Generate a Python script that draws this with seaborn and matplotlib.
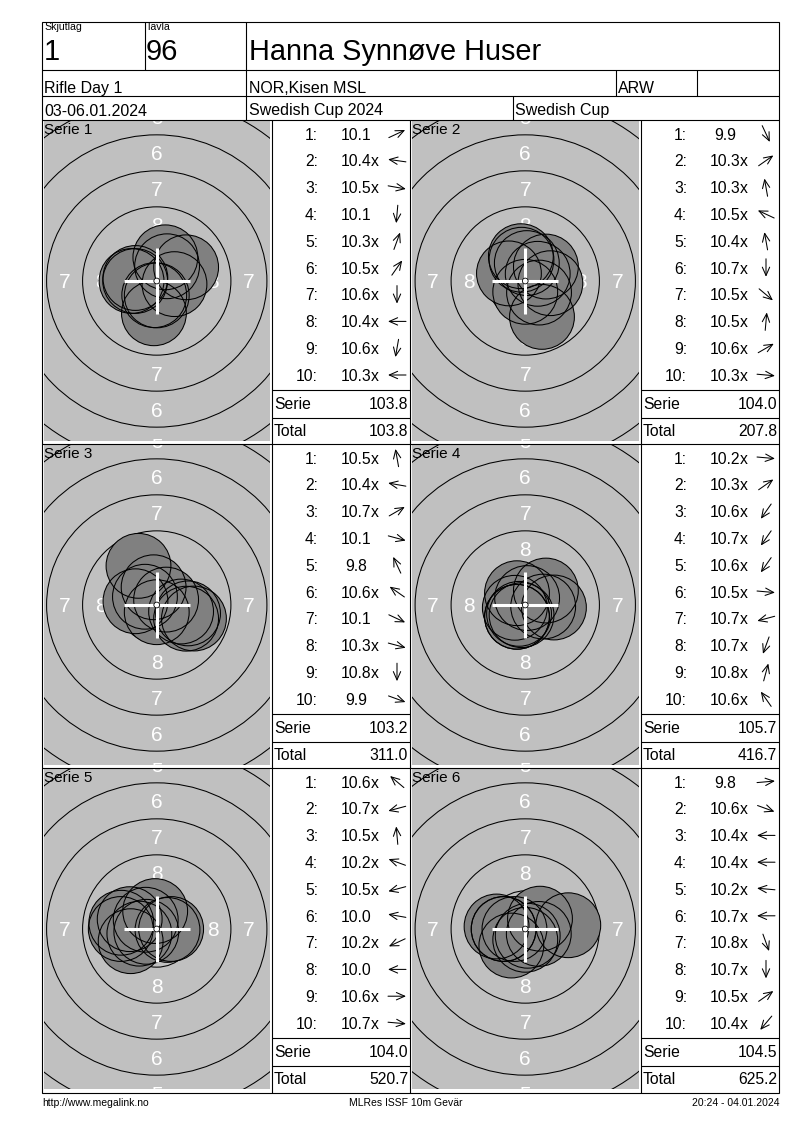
"""
Shooting scorecard: 6 series of 10 shots, ISSF 10m air rifle
"""

import numpy as np
import pandas as pd
import matplotlib
matplotlib.use("Agg")
import matplotlib.pyplot as plt
from matplotlib.patches import Circle, Rectangle
import seaborn as sns

sns.set_theme(style="white")
plt.rcParams["font.family"] = ["Liberation Sans", "DejaVu Sans"]

# ---- header / footer texts
SQUAD = "1"
LANE = "96"
SHOOTER = "Hanna Synnøve Huser"
EVENT = "Rifle Day 1"
CLUB = "NOR,Kisen MSL"
CLASS = "ARW"
DATES = "03-06.01.2024"
COMP = "Swedish Cup 2024"
COMP_SHORT = "Swedish Cup"
FOOT_LEFT = "http://www.megalink.no"
FOOT_MID = "MLRes ISSF 10m Gevär"
FOOT_RIGHT = "20:24 - 04.01.2024"

# ---- shots: score strings and arrow direction (deg, 0 = right, 90 = up)
S1_SCORES = ["10.1", "10.4x", "10.5x", "10.1", "10.3x", "10.5x", "10.6x", "10.4x", "10.6x", "10.3x"]
S1_DIR = [25, 172, -10, -95, 70, 55, -90, 180, -100, 180]
S2_SCORES = ["9.9", "10.3x", "10.3x", "10.5x", "10.4x", "10.7x", "10.5x", "10.5x", "10.6x", "10.3x"]
S2_DIR = [-65, 35, 100, 155, 100, -90, -40, 85, 30, -5]
S3_SCORES = ["10.5x", "10.4x", "10.7x", "10.1", "9.8", "10.6x", "10.1", "10.3x", "10.8x", "9.9"]
S3_DIR = [100, 170, 30, -15, 115, 145, -25, -15, -90, -20]
S4_SCORES = ["10.2x", "10.3x", "10.6x", "10.7x", "10.6x", "10.5x", "10.7x", "10.7x", "10.8x", "10.6x"]
S4_DIR = [-5, 35, -125, -125, -125, -5, 195, -110, 75, 125]
S5_SCORES = ["10.6x", "10.7x", "10.5x", "10.2x", "10.5x", "10.0", "10.2x", "10.0", "10.6x", "10.7x"]
S5_DIR = [140, 195, 95, 160, 195, 170, 205, 180, 0, -5]
S6_SCORES = ["9.8", "10.6x", "10.4x", "10.4x", "10.2x", "10.7x", "10.8x", "10.7x", "10.5x", "10.4x"]
S6_DIR = [5, -20, 180, 180, 175, 180, -70, -90, 35, -130]

SERIE_NAMES = ["Serie 1", "Serie 2", "Serie 3", "Serie 4", "Serie 5", "Serie 6"]
SERIE_SUMS = ["103.8", "104.0", "103.2", "105.7", "104.0", "104.5"]
RUN_TOTALS = ["103.8", "207.8", "311.0", "416.7", "520.7", "625.2"]

ALL_SCORES = [S1_SCORES, S2_SCORES, S3_SCORES, S4_SCORES, S5_SCORES, S6_SCORES]
ALL_DIRS = [S1_DIR, S2_DIR, S3_DIR, S4_DIR, S5_DIR, S6_DIR]

# ---- layout (pixels, figure is 800 x 1130)
W, H = 800, 1130
PX_PER_MM = 14.4
PANEL_TOPS = [120, 444, 768]
TARGET_BOX = [(43.5, 270), (411.5, 639)]
TABLE_LEFTS = [272, 641]
TABLE_W = 138
LW = 0.8
GRAY_BG = "#c0c0c0"
SHOT_FILL = "#808080"
PELLET_R = 2.25  # mm

fig = plt.figure(figsize=(W / 100, H / 100), dpi=100)
fig.patch.set_facecolor("white")

ov = fig.add_axes([0, 0, 1, 1], zorder=10)
ov.set_xlim(0, W)
ov.set_ylim(H, 0)
ov.axis("off")


def hline(y, x0, x1):
    ov.plot([x0, x1], [y, y], color="black", lw=LW, solid_capstyle="butt")


def vline(x, y0, y1):
    ov.plot([x, x], [y0, y1], color="black", lw=LW, solid_capstyle="butt")


def txt(x, y, s, size, ha="left", **kw):
    ov.text(x, y, s, fontsize=size, ha=ha, va="baseline", color="black", **kw)


def draw_target(col, top, scores, dirs, name):
    x0, x1 = TARGET_BOX[col]
    y0, y1 = top + 1, top + 321
    tax = fig.add_axes([x0 / W, 1 - y1 / H, (x1 - x0) / W, (y1 - y0) / H])
    hw = (x1 - x0) / 2 / PX_PER_MM
    hh = (y1 - y0) / 2 / PX_PER_MM
    tax.set_facecolor(GRAY_BG)

    # rings
    ring_r = {n: 0.15 + (10 - n) * 2.5 for n in range(4, 10)}
    for n in range(5, 10):
        tax.add_patch(Circle((0, 0), ring_r[n], fill=False, ec="black", lw=0.75, zorder=1))
    for n in [8, 7, 6, 5]:
        r = (ring_r[n] + ring_r[n + 1]) / 2
        for (dx, dy) in [(0, 1), (0, -1), (1, 0), (-1, 0)]:
            if dx and r > hw - 0.3:
                continue
            tax.text(dx * r, dy * r - 0.52, str(n), color="white", fontsize=15,
                     ha="center", va="baseline", zorder=2, clip_on=True)

    # shots from score + direction
    vals = np.array([float(s.rstrip("x")) for s in scores])
    ang = np.radians(np.array(dirs, dtype=float))
    dist = (11.0 - vals) * 2.5
    df = pd.DataFrame({"x": dist * np.cos(ang), "y": dist * np.sin(ang)})
    size = (2 * PELLET_R * PX_PER_MM * 0.72) ** 2
    sns.scatterplot(data=df, x="x", y="y", s=size, color=SHOT_FILL, linewidth=0,
                    edgecolor="none", ax=tax, legend=False, zorder=3)
    sns.scatterplot(data=df, x="x", y="y", s=size, color="black", linewidth=0.75,
                    edgecolor="black", ax=tax, legend=False, zorder=4)
    tax.collections[-1].set_facecolor("none")

    # aiming cross
    tax.plot([-2.3, 2.3], [0, 0], color="white", lw=2.2, zorder=5, solid_capstyle="butt")
    tax.plot([0, 0], [-2.3, 2.3], color="white", lw=2.2, zorder=5, solid_capstyle="butt")
    tax.add_patch(Circle((0, 0), 0.2, fc="white", ec="black", lw=0.6, zorder=6))

    tax.set_xlim(-hw, hw)
    tax.set_ylim(-hh, hh)
    tax.set_aspect("auto")
    tax.set_xticks([])
    tax.set_yticks([])
    tax.set_xlabel("")
    tax.set_ylabel("")
    for sp in tax.spines.values():
        sp.set_visible(False)

    txt(x0 + 0.5, top + 14, name, 11)


def draw_table(col, top, scores, dirs, serie_sum, total):
    tl = TABLE_LEFTS[col]
    for i, (s, a) in enumerate(zip(scores, dirs)):
        yb = top + 19.5 + 26.8 * i
        txt(tl + 46, yb, f"{i + 1}:", 11.3, ha="right")
        num = s.rstrip("x")
        txt(tl + 84, yb, num, 11.3, ha="center")
        if s.endswith("x"):
            txt(tl + 98.5, yb, "x", 11.3)
        # direction arrow
        cx, cy = tl + 125, top + 13.8 + 26.8 * i
        ar = np.radians(a)
        dx, dy = 9 * np.cos(ar), -9 * np.sin(ar)
        ov.annotate("", xy=(cx + dx, cy + dy), xytext=(cx - dx, cy - dy),
                    arrowprops=dict(arrowstyle="->,head_length=0.5,head_width=0.22",
                                    lw=0.75, color="black", shrinkA=0, shrinkB=0))
    hline(top + 270, tl, tl + TABLE_W)
    hline(top + 297.5, tl, tl + TABLE_W)
    txt(tl + 2, top + 289, "Serie", 11.3)
    txt(tl + 136, top + 289, serie_sum, 11.3, ha="right")
    txt(tl + 2, top + 316, "Total", 11.3)
    txt(tl + 136, top + 316, total, 11.3, ha="right")


# ---- frame and header grid
ov.add_patch(Rectangle((42, 22), 779 - 42, 1093 - 22, fill=False, ec="black", lw=LW))
for y in [70, 96, 120, 444, 768]:
    hline(y, 42, 779)
vline(145, 22, 70)
vline(246, 22, 120)
vline(616, 70, 96)
vline(697, 70, 96)
vline(513, 96, 120)
for x in [272, 410, 641]:
    vline(x, 120, 1093)

txt(44, 30, "Skjutlag", 7.6)
txt(146, 30, "Tavla", 7.6)
txt(44, 59.5, SQUAD, 21)
txt(146, 59.5, LANE, 21)
txt(249, 59.5, SHOOTER, 20.8)
txt(44, 93.3, EVENT, 11.5)
txt(249, 93.3, CLUB, 11.5)
txt(618, 93.3, CLASS, 11.5)
txt(44, 115.5, DATES, 11.5)
txt(249, 115.5, COMP, 11.5)
txt(515, 115.5, COMP_SHORT, 11.5)

# ---- series panels
for k in range(6):
    row, col = divmod(k, 2)
    top = PANEL_TOPS[row]
    draw_target(col, top, ALL_SCORES[k], ALL_DIRS[k], SERIE_NAMES[k])
    draw_table(col, top, ALL_SCORES[k], ALL_DIRS[k], SERIE_SUMS[k], RUN_TOTALS[k])

# ---- footer
txt(42, 1106, FOOT_LEFT, 7.5)
txt(406, 1106, FOOT_MID, 7.5, ha="center")
txt(779, 1106, FOOT_RIGHT, 7.5, ha="right")

fig.savefig("out.png", dpi=100, facecolor="white")
